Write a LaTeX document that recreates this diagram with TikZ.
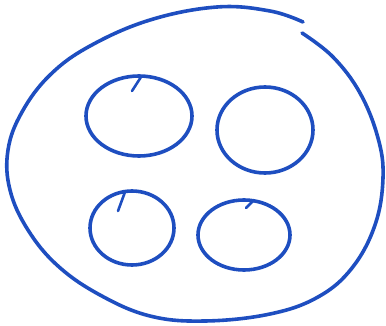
\documentclass[tikz,border=0pt]{standalone}
\usepackage{xcolor}
\definecolor{inkblue}{RGB}{30,78,192}

\begin{document}
\begin{tikzpicture}[x=1pt,y=-1pt,
    pen/.style={draw=inkblue,line width=3.6pt,line cap=round,line join=round}]
  \useasboundingbox (0,0) rectangle (386,326);

  % duza elipsa (z przerwa u gory po prawej)
  \draw[pen] plot[smooth,tension=0.65] coordinates {
      (302,33) (333,57) (360,93) (378,138) (383,178) (375,225) (352,268)
      (318,297) (270,314) (205,321) (150,316) (100,295) (58,266)
      (28,230) (10,190) (8,150) (22,112) (50,75) (90,46) (150,20)
      (217,7) (270,11) (303,22)};

  % cztery male okregi
  \coordinate (c1) at (139,116);
  \coordinate (c2) at (265,130);
  \coordinate (c3) at (132,228);
  \coordinate (c4) at (244,235);
  \draw[pen] (c1) ellipse [x radius=53, y radius=40];
  \draw[pen] (c2) ellipse [x radius=48, y radius=43];
  \draw[pen] (c3) ellipse [x radius=42, y radius=37];
  \draw[pen] (c4) ellipse [x radius=46, y radius=35];

  % zaczepy pisaka
  \draw[pen,line width=2.6pt] (132,91) -- (141,77) (118,211) -- (125,192)
      (246,208) -- (254,200);
\end{tikzpicture}
\end{document}
